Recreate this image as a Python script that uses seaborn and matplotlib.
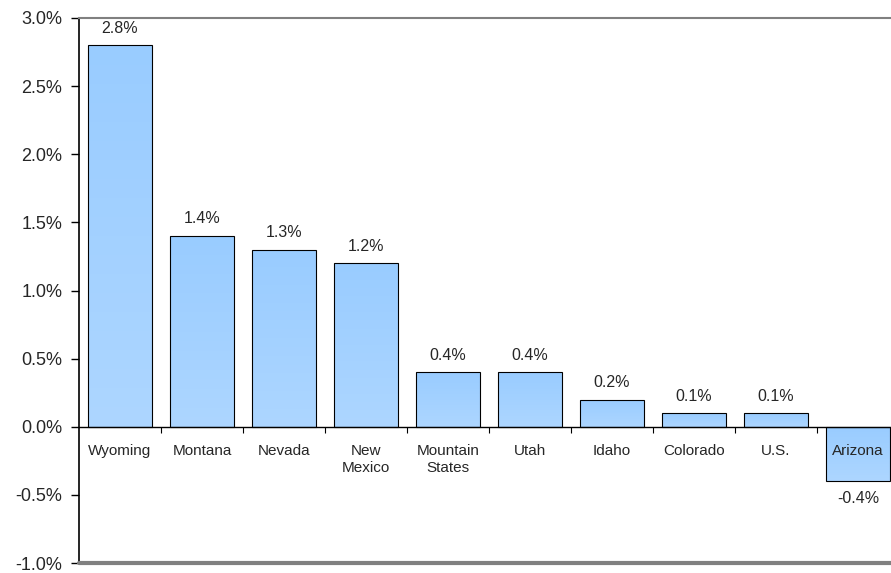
import numpy as np
import pandas as pd
import matplotlib.pyplot as plt
import seaborn as sns
from matplotlib.colors import LinearSegmentedColormap

# Job growth by state, percent
states = ['Wyoming', 'Montana', 'Nevada', 'New\nMexico', 'Mountain\nStates',
          'Utah', 'Idaho', 'Colorado', 'U.S.', 'Arizona']
growth = [2.8, 1.4, 1.3, 1.2, 0.4, 0.4, 0.2, 0.1, 0.1, -0.4]
yticks = [-1.0, -0.5, 0.0, 0.5, 1.0, 1.5, 2.0, 2.5, 3.0]

df = pd.DataFrame({'State': states, 'Growth': growth})

sns.set_theme(style='white')
plt.rcParams['font.family'] = ['Liberation Sans', 'DejaVu Sans']

fig = plt.figure(figsize=(8.91, 5.73), dpi=100)
ax = fig.add_axes([79 / 891, 10 / 573, 820 / 891, 545 / 573])

sns.barplot(data=df, x='State', y='Growth', color='#99CCFF', width=0.78,
            edgecolor='black', linewidth=0.8, ax=ax)

# vertical gradient inside each bar
cmap = LinearSegmentedColormap.from_list('bar', ['#ADD6FF', '#99CCFF'])
grad = np.linspace(0, 1, 256).reshape(-1, 1)
for p in ax.patches:
    x0, y0 = p.get_x(), p.get_y()
    w, h = p.get_width(), p.get_height()
    lo, hi = min(y0, y0 + h), max(y0, y0 + h)
    im = ax.imshow(grad, cmap=cmap, aspect='auto', origin='lower',
                   extent=[x0, x0 + w, lo, hi], zorder=1)
    im.set_clip_path(p)
    p.set_facecolor('none')
    p.set_zorder(2)

ax.set_xlim(-0.5, 9.5)
ax.set_ylim(-1.0, 3.0)

# axes styling
ax.spines['bottom'].set_position(('data', 0))
ax.spines['bottom'].set_color('black')
ax.spines['bottom'].set_linewidth(1.0)
ax.spines['left'].set_color('black')
ax.spines['left'].set_linewidth(1.2)
ax.spines['top'].set_color('#808080')
ax.spines['top'].set_linewidth(1.5)
ax.spines['right'].set_visible(False)
ax.axhline(-1.0, color='#808080', linewidth=3, clip_on=False, zorder=3)

ax.set_yticks(yticks)
ax.set_yticklabels([f'{v:.1f}%' for v in yticks], fontsize=13)
ax.tick_params(axis='y', direction='out', length=6, width=1, color='black',
               left=True, pad=6)
ax.set_xticks(np.arange(0.5, 9.5, 1.0))
ax.set_xticklabels([])
ax.tick_params(axis='x', direction='out', length=4, width=0.8, color='black',
               bottom=True)
ax.set_xlabel('')
ax.set_ylabel('')

# category names just below the zero line
for i, name in enumerate(states):
    ax.text(i, -0.13, name, ha='center', va='top', fontsize=11,
            linespacing=1.2, zorder=4)

# value labels
for i, val in enumerate(growth):
    if val >= 0:
        ax.text(i, val + 0.07, f'{val:.1f}%', ha='center', va='bottom', fontsize=11.5)
    else:
        ax.text(i, val - 0.07, f'{val:.1f}%', ha='center', va='top', fontsize=11.5)

plt.savefig('out.png', dpi=100)
